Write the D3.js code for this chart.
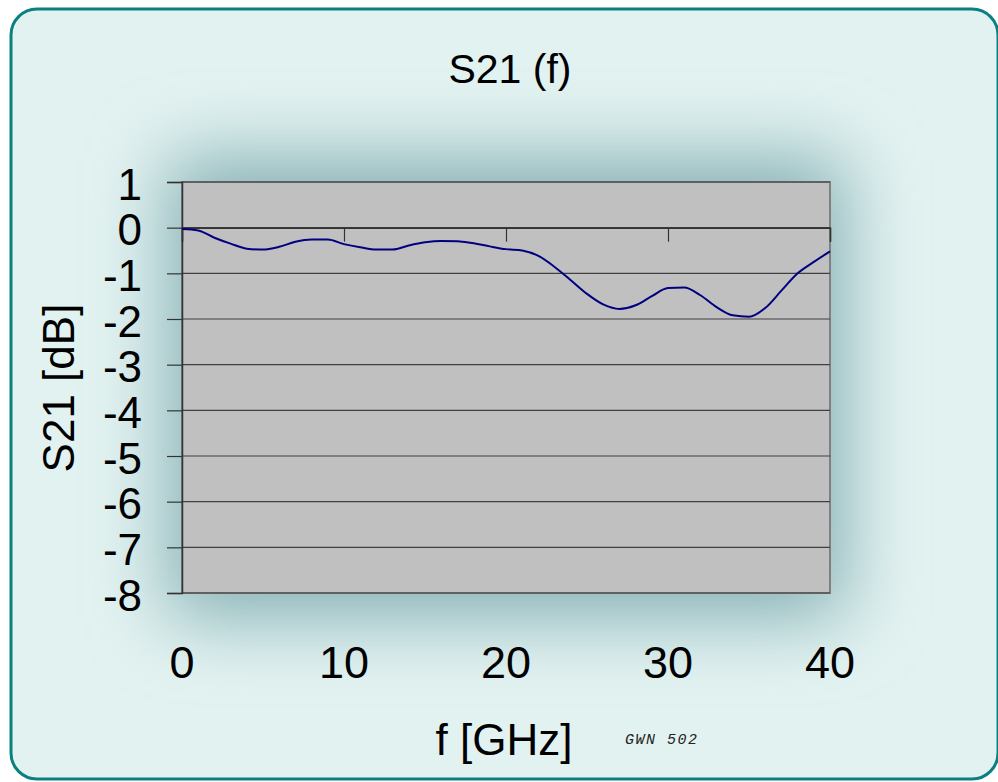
<!DOCTYPE html>
<html><head><meta charset="utf-8">
<script src="https://cdn.jsdelivr.net/npm/d3@7"></script>
<style>body{margin:0;background:#fff;} svg{display:block;}</style>
</head><body>
<script>
const freq = [0,1,2,3,4,5,6,7,8,9,10,11,12,13,14,15,16,17,18,19,20,21,22,23,24,25,26,27,28,29,30,31,32,33,34,35,36,37,38,39,40];
const s21  = [-0.03,-0.06,-0.22,-0.35,-0.46,-0.48,-0.42,-0.31,-0.26,-0.26,-0.36,-0.43,-0.48,-0.48,-0.39,-0.32,-0.29,-0.3,-0.34,-0.41,-0.47,-0.5,-0.62,-0.86,-1.15,-1.45,-1.68,-1.78,-1.7,-1.5,-1.32,-1.31,-1.48,-1.74,-1.92,-1.95,-1.76,-1.38,-1.0,-0.75,-0.52];
const yTicks = [1,0,-1,-2,-3,-4,-5,-6,-7,-8];
const xTicks = [0,10,20,30,40];
const titleText = "S21 (f)", xLabel = "f [GHz]", yLabel = "S21 [dB]", stamp = "GWN 502";

const W=998,H=782;
const FONT="Liberation Sans, Arial, sans-serif";
const svg=d3.select("body").append("svg").attr("width",W).attr("height",H);
const defs=svg.append("defs");
defs.append("filter").attr("id","blur").attr("x","-50%").attr("y","-50%").attr("width","200%").attr("height","200%")
  .append("feGaussianBlur").attr("stdDeviation",38);
defs.append("clipPath").attr("id","frame").append("rect").attr("x",11).attr("y",9).attr("width",987).attr("height",770).attr("rx",26);

const L=182,R=830,T=182,B=593;
const x=d3.scaleLinear().domain([0,40]).range([L,R]);
const y=d3.scaleLinear().domain([-8,1]).range([B,T]);

const g=svg.append("g").attr("clip-path","url(#frame)");
g.append("rect").attr("x",0).attr("y",0).attr("width",W+40).attr("height",H).attr("fill","#e2f2f1");
g.append("rect").attr("x",L-15).attr("y",T-25).attr("width",R-L+30).attr("height",B-T+50)
  .attr("fill","#86b0b4").attr("filter","url(#blur)");
svg.append("rect").attr("x",11).attr("y",9).attr("width",987).attr("height",770).attr("rx",26)
  .attr("fill","none").attr("stroke","#0a8080").attr("stroke-width",3);

// plot area
svg.append("rect").attr("x",L).attr("y",T).attr("width",R-L).attr("height",B-T).attr("fill","#c0c0c0")
  .attr("stroke","#808080").attr("stroke-width",2);

// gridlines
svg.append("g").selectAll("line").data(yTicks).join("line")
  .attr("x1",L).attr("x2",R).attr("y1",d=>y(d)).attr("y2",d=>y(d))
  .attr("stroke","#404040").attr("stroke-width",1.2);

// y axis
const ya=svg.append("g").attr("transform",`translate(${L},0)`)
  .call(d3.axisLeft(y).tickValues(yTicks).tickSize(15).tickPadding(25).tickFormat(d=>String(d)));
ya.select(".domain").attr("stroke","#333").attr("stroke-width",1.5);
ya.selectAll(".tick line").attr("stroke","#333").attr("stroke-width",1.2);
ya.selectAll("text").attr("font-family",FONT).attr("font-size",44).attr("fill","#000").attr("dy","0.39em");

// x axis at y=0
const xa=svg.append("g").attr("transform",`translate(0,${y(0)})`)
  .call(d3.axisBottom(x).tickValues(xTicks).tickSize(14).tickFormat(""));
xa.select(".domain").attr("stroke","#333").attr("stroke-width",1.5);
xa.selectAll(".tick line").attr("stroke","#333").attr("stroke-width",1.2);
svg.append("g").selectAll("text").data(xTicks).join("text")
  .attr("x",d=>x(d)).attr("y",678).attr("text-anchor","middle")
  .attr("font-family",FONT).attr("font-size",45).text(d=>d);

// line
svg.append("path").datum(freq.map((f,i)=>[f,s21[i]]))
  .attr("d",d3.line().x(d=>x(d[0])).y(d=>y(d[1])).curve(d3.curveMonotoneX))
  .attr("fill","none").attr("stroke","#000080").attr("stroke-width",2);

// texts
svg.append("text").attr("x",510).attr("y",83).attr("text-anchor","middle")
  .attr("font-family",FONT).attr("font-size",41).text(titleText);
svg.append("text").attr("transform","translate(74,388) rotate(-90)").attr("text-anchor","middle")
  .attr("font-family",FONT).attr("font-size",44).text(yLabel);
svg.append("text").attr("x",504).attr("y",755).attr("text-anchor","middle")
  .attr("font-family",FONT).attr("font-size",44).text(xLabel);
svg.append("text").attr("x",625).attr("y",744).attr("font-style","italic")
  .attr("font-family","Liberation Mono, monospace").attr("font-size",15).attr("fill","#222").attr("letter-spacing",1.5).text(stamp);
</script>
</body></html>
